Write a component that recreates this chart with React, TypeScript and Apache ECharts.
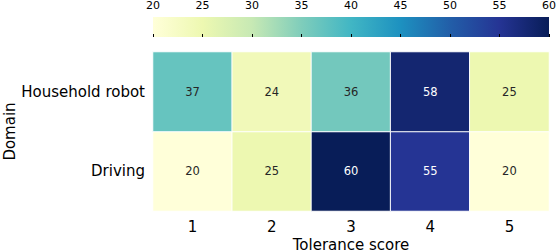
import React, { useEffect, useRef } from "react";
import * as echarts from "echarts";

const scores = ["1", "2", "3", "4", "5"];
const domains = ["Driving", "Household robot"]; // bottom to top
const householdRobot = [37, 24, 36, 58, 25];
const driving = [20, 25, 60, 55, 20];
const colorbarTicks = [20, 25, 30, 35, 40, 45, 50, 55, 60];
const ylgnbu = ["#ffffd9", "#edf8b1", "#c7e9b4", "#7fcdbb", "#41b6c4", "#1d91c0", "#225ea8", "#253494", "#081d58"];

const FONT = "DejaVu Sans";

export default function App() {
  const ref = useRef<HTMLDivElement>(null);
  useEffect(() => {
    document.body.style.margin = "0";
    const chart = echarts.init(ref.current!, null, { renderer: "svg" });
    const rows = [driving, householdRobot];
    const data: any[] = [];
    rows.forEach((row, yi) =>
      row.forEach((v, xi) =>
        data.push({ value: [xi, yi, v], label: { color: v >= 50 ? "#ffffff" : "#262626" } })
      )
    );
    const gl = 153, gw = 396;
    chart.setOption({
      animation: false,
      textStyle: { fontFamily: FONT },
      grid: [
        { left: gl, width: gw, top: 52, height: 159, outerBoundsMode: "none", containLabel: false },
        { left: gl, width: gw, top: 17, height: 20, outerBoundsMode: "none", containLabel: false },
      ],
      xAxis: [
        {
          type: "category",
          data: scores,
          gridIndex: 0,
          name: "Tolerance score",
          nameLocation: "middle",
          nameGap: 26,
          nameMoveOverlap: false,
          nameTextStyle: { fontSize: 15, color: "#000", fontFamily: FONT },
          axisLine: { show: false },
          axisTick: { alignWithLabel: true, length: 5, lineStyle: { color: "#000" } },
          axisLabel: { fontSize: 15, color: "#000", margin: 8, fontFamily: FONT },
          splitArea: { show: false },
        },
        {
          type: "value",
          gridIndex: 1,
          position: "top",
          min: 20,
          max: 60,
          interval: 5,
          axisLine: { show: false },
          axisTick: { show: true, length: 3, lineStyle: { color: "#000" } },
          axisLabel: { fontSize: 11, color: "#000", margin: 6, fontFamily: FONT, customValues: colorbarTicks },
          splitLine: { show: false },
        },
      ],
      yAxis: [
        {
          type: "category",
          data: domains,
          gridIndex: 0,
          name: "Domain",
          nameLocation: "middle",
          nameGap: 136,
          nameMoveOverlap: false,
          nameTextStyle: { fontSize: 15, color: "#000", fontFamily: FONT },
          axisLine: { show: false },
          axisTick: { alignWithLabel: true, length: 5, lineStyle: { color: "#000" } },
          axisLabel: { fontSize: 15, color: "#000", margin: 8, fontFamily: FONT },
        },
        {
          type: "value",
          gridIndex: 1,
          min: 0,
          max: 1,
          show: false,
        },
      ],
      visualMap: {
        show: false,
        min: 20,
        max: 60,
        seriesIndex: 0,
        inRange: { color: ylgnbu },
      },
      graphic: [
        {
          type: "rect",
          shape: { x: gl, y: 17, width: gw, height: 20 },
          style: {
            fill: new echarts.graphic.LinearGradient(
              0, 0, 1, 0,
              ylgnbu.map((c, i) => ({ offset: i / (ylgnbu.length - 1), color: c }))
            ),
          },
          z: -1,
        },
      ],
      series: [
        {
          type: "heatmap",
          xAxisIndex: 0,
          yAxisIndex: 0,
          data,
          label: { show: true, fontSize: 11.5, fontFamily: FONT },
          itemStyle: { borderColor: "#ffffff", borderWidth: 1 },
          emphasis: { disabled: true },
        },
      ],
    });
    return () => chart.dispose();
  }, []);
  return <div ref={ref} style={{ width: 556, height: 252 }} />;
}
